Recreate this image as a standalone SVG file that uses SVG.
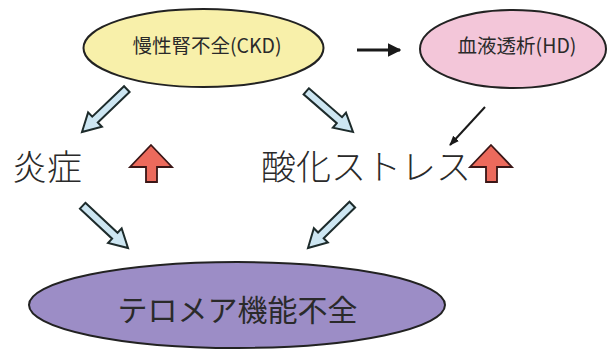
<svg xmlns="http://www.w3.org/2000/svg" xmlns:xlink="http://www.w3.org/1999/xlink" width="613" height="350" viewBox="0 0 613 350">
<style>
.node{stroke:#222;stroke-width:2}
.lbl{font-family:"Noto Sans CJK JP","Noto Sans",sans-serif;fill:#2a2a2a;dominant-baseline:central}
.big{font-weight:300}
.blue{fill:#cde6f2;stroke:#1d2b2b;stroke-width:2;stroke-linejoin:miter}
.red{fill:#ec6a5c;stroke:#3a1616;stroke-width:1.8;stroke-linejoin:miter}
</style>
<defs>
<path id="blk" d="M-62,-4 L-18,-4 L-18,-10 L0,0 L-18,10 L-18,4 L-62,4 Z"/>
<path id="up" d="M0,0 L21,22 L6,22 L6,37 L-5,37 L-5,22 L-21,22 Z"/>
<marker id="ah" viewBox="0 0 10 10" refX="9" refY="5" markerWidth="4.5" markerHeight="4.5" orient="auto" markerUnits="strokeWidth">
<path d="M0,0 L10,5 L0,10 Z" fill="#1a1a1a"/>
</marker>
<marker id="ah2" viewBox="0 0 10 10" refX="9" refY="5" markerWidth="5" markerHeight="5" orient="auto" markerUnits="strokeWidth">
<path d="M0,1 L10,5 L0,9 Z" fill="#1a1a1a"/>
</marker>
</defs>
<rect width="613" height="350" fill="#fff"/>
<g id="ckd">
<ellipse class="node" cx="203.5" cy="48" rx="120" ry="39" fill="#f8f0aa"/>
<text class="lbl" x="207" y="44" font-size="19.5" text-anchor="middle">慢性腎不全(CKD)</text>
</g>
<g id="hd">
<ellipse class="node" cx="513" cy="49" rx="93" ry="39" fill="#f3c6d9"/>
<text class="lbl" x="517" y="44" font-size="19.5" text-anchor="middle">血液透析(HD)</text>
</g>
<g id="inflammation">
<text class="lbl big" x="12" y="164" font-size="35">炎症</text>
</g>
<g id="oxidative">
<text class="lbl big" x="261" y="164" font-size="35">酸化ストレス</text>
</g>
<g id="telomere">
<ellipse class="node" cx="237" cy="305" rx="208" ry="43" fill="#9c8dc6"/>
<text class="lbl" x="237.5" y="308" font-size="30" text-anchor="middle">テロメア機能不全</text>
</g>
<g id="increase">
<use xlink:href="#up" href="#up" class="red" transform="translate(151,145)"/>
<use xlink:href="#up" href="#up" class="red" transform="translate(491,145)"/>
</g>
<g id="connectors">
<line x1="357" y1="50" x2="400" y2="50" stroke="#1a1a1a" stroke-width="3" marker-end="url(#ah)"/>
<line x1="485" y1="107" x2="450" y2="145" stroke="#1a1a1a" stroke-width="2" marker-end="url(#ah2)"/>
<use xlink:href="#blk" href="#blk" class="blue" transform="translate(82,132) rotate(136.3)"/>
<use xlink:href="#blk" href="#blk" class="blue" transform="translate(353,132) rotate(41)"/>
<use xlink:href="#blk" href="#blk" class="blue" transform="translate(128,248) rotate(43)"/>
<use xlink:href="#blk" href="#blk" class="blue" transform="translate(308,248) rotate(135.6)"/>
</g>
</svg>
